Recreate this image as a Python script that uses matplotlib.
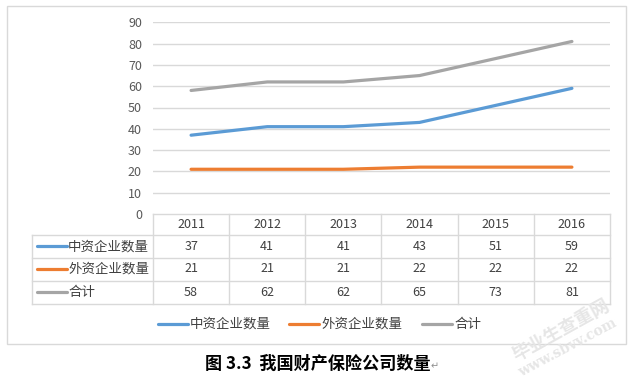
import matplotlib
matplotlib.use("Agg")
import matplotlib.pyplot as plt
from matplotlib.transforms import blended_transform_factory
from matplotlib.patches import Rectangle

plt.rcParams['font.family'] = ['Noto Sans CJK SC', 'DejaVu Sans']

# ---- data ----
years = ["2011", "2012", "2013", "2014", "2015", "2016"]
domestic = [37, 41, 41, 43, 51, 59]
foreign = [21, 21, 21, 22, 22, 22]
total = [58, 62, 62, 65, 73, 81]
series_names = ["中资企业数量", "外资企业数量", "合计"]
series_values = [domestic, foreign, total]
series_colors = ["#5B9BD5", "#ED7D31", "#A5A5A5"]
y_ticks = [0, 10, 20, 30, 40, 50, 60, 70, 80, 90]
title = "图 3.3  我国财产保险公司数量"

W, H = 630, 381
fig = plt.figure(figsize=(W / 100, H / 100), dpi=100)
fig.patch.set_facecolor("white")

# overlay in pixel coordinates (y downward)
ov = fig.add_axes([0, 0, 1, 1], zorder=0)
ov.set_xlim(0, W)
ov.set_ylim(H, 0)
ov.axis("off")

# plot area
px_left, px_right, px_top, px_bottom = 153, 610, 22.3, 214
ax = fig.add_axes([px_left / W, (H - px_bottom) / H,
                   (px_right - px_left) / W, (px_bottom - px_top) / H], zorder=2)
ax.set_facecolor("none")
ax.set_xlim(-0.5, len(years) - 0.5)
ax.set_ylim(0, 90)
for s in ax.spines.values():
    s.set_visible(False)
ax.set_xticks([])
ax.set_yticks(y_ticks)
ax.set_yticklabels([str(v) for v in y_ticks])
ax.tick_params(axis="y", length=0, pad=8, labelsize=9, labelcolor="#595959")
for v in y_ticks[1:]:
    ax.axhline(v, color="#D9D9D9", lw=1, zorder=1)

x = list(range(len(years)))
for vals, c in zip(series_values, series_colors):
    ax.plot(x, vals, color=c, lw=2.3, solid_capstyle="round", zorder=3)

# ---- data table ----
grid_c = "#D9D9D9"
txt_c = "#404040"
bt = blended_transform_factory(ax.transData, ov.transData)
row_edges = [214, 235, 257.5, 280.5, 303.5]
tbl_left = 32
edges = [i - 0.5 for i in range(len(years) + 1)]
ov.plot([px_left, px_right], [row_edges[0]] * 2, color=grid_c, lw=1, zorder=1)
for yy in row_edges[1:]:
    ov.plot([tbl_left, px_right], [yy] * 2, color=grid_c, lw=1, zorder=1)
ov.plot([tbl_left, tbl_left], [row_edges[1], row_edges[-1]], color=grid_c, lw=1, zorder=1)
for e in edges:
    ov.plot([e, e], [row_edges[0], row_edges[-1]], color=grid_c, lw=1,
            transform=bt, zorder=1)

for i, yr in enumerate(years):
    ov.text(i, (row_edges[0] + row_edges[1]) / 2, yr, transform=bt, ha="center",
            va="center", fontsize=9, color=txt_c)
for r, (name, vals, c) in enumerate(zip(series_names, series_values, series_colors)):
    yc = (row_edges[r + 1] + row_edges[r + 2]) / 2
    ov.plot([37, 67], [yc, yc], color=c, lw=2.3, solid_capstyle="round")
    ov.text(68, yc, name, ha="left", va="center", fontsize=9.7, color=txt_c)
    for i, v in enumerate(vals):
        ov.text(i, yc, str(v), transform=bt, ha="center", va="center",
                fontsize=9, color=txt_c)

# ---- legend ----
leg_y = 324
leg_pos = [158, 289, 422]
for name, c, lx in zip(series_names, series_colors, leg_pos):
    ov.plot([lx, lx + 30], [leg_y, leg_y], color=c, lw=2.3, solid_capstyle="round")
    ov.text(lx + 32, leg_y, name, ha="left", va="center", fontsize=9.7, color=txt_c)

# outer chart border
ov.add_patch(Rectangle((7, 6), 619, 338, fill=False, edgecolor=grid_c, lw=1))

# caption
ov.text(205, 364, title, ha="left", va="center", fontsize=12.3,
        fontweight="bold", color="black")
ov.text(431, 366, "↵", ha="left", va="center", fontsize=7, color="#909090",
        family=["DejaVu Sans"])

# watermark
ov.text(561, 330, "毕业生查重网", ha="center", va="center", fontsize=13,
        fontweight="bold", color="#E6E6E6", rotation=29, zorder=5)
ov.text(568, 348, "www.sbvv.com", ha="center", va="center", fontsize=10,
        fontweight="bold", color="#E6E6E6", rotation=28, family=["DejaVu Serif"], zorder=5)

fig.savefig("out.png", dpi=100)
